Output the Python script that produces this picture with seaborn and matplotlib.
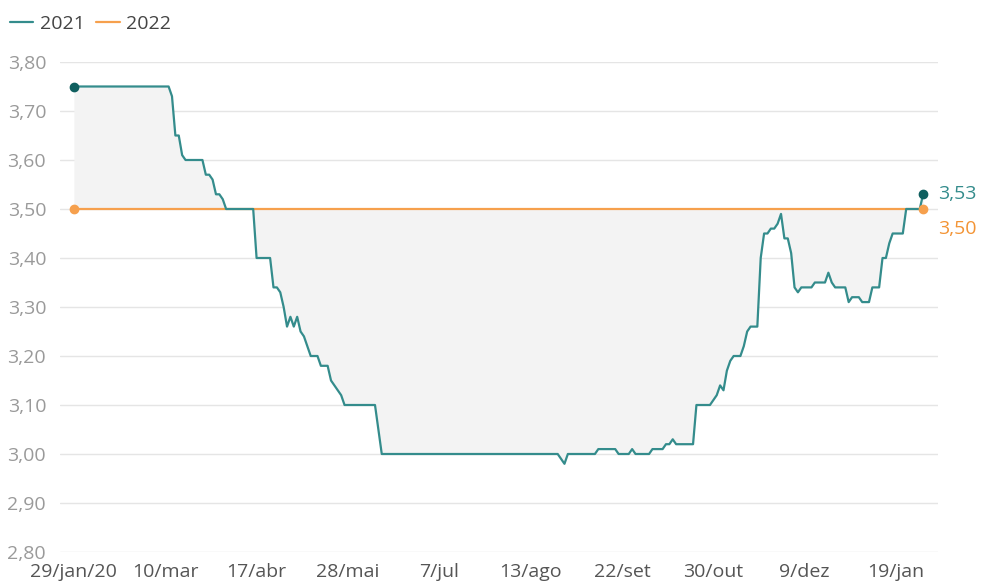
"""Focus-style expectation chart: 2021 vs 2022 series over Brazilian business days."""

import matplotlib

matplotlib.use("Agg")
import matplotlib.pyplot as plt
import numpy as np
import pandas as pd
import seaborn as sns

# -----------------------------------------------------------------------------
# Data
# -----------------------------------------------------------------------------

start_date = "2020-01-29"
end_date = "2021-01-29"
br_holidays = [
    "2020-02-24", "2020-02-25", "2020-04-10", "2020-04-21", "2020-05-01",
    "2020-06-11", "2020-09-07", "2020-10-12", "2020-11-02", "2020-12-25",
    "2021-01-01",
]

# 2021 series as runs of (value, number of business days)
values_2021 = [
    3.75, 3.73, 3.65, 3.61, 3.60, 3.57, 3.56, 3.53, 3.52, 3.50,
    3.40, 3.34, 3.33, 3.30, 3.26, 3.28, 3.26, 3.28, 3.25, 3.24,
    3.22, 3.20, 3.18, 3.15, 3.14, 3.13, 3.12, 3.10, 3.05, 3.00,
    2.99, 2.98, 3.00, 3.01, 3.00, 3.01, 3.00, 3.01, 3.02, 3.03,
    3.02, 3.10, 3.11, 3.12, 3.14, 3.13, 3.17, 3.19, 3.20, 3.22,
    3.25, 3.26, 3.40, 3.45, 3.46, 3.47, 3.49, 3.44, 3.41, 3.34,
    3.33, 3.34, 3.35, 3.37, 3.35, 3.34, 3.31, 3.32, 3.31, 3.34,
    3.40, 3.43, 3.45, 3.50, 3.53,
]
counts_2021 = [
    29, 1, 2, 1, 6, 2, 1, 2, 1, 9,
    5, 2, 1, 1, 1, 1, 1, 1, 1, 1,
    1, 3, 3, 1, 1, 1, 1, 10, 1, 53,
    1, 1, 9, 6, 4, 1, 5, 4, 2, 1,
    6, 5, 1, 1, 1, 1, 1, 1, 3, 1,
    1, 3, 1, 2, 2, 1, 1, 2, 1, 1,
    1, 4, 4, 1, 1, 4, 1, 3, 3, 3,
    2, 1, 4, 5, 1,
]

values_2022 = [3.50]
counts_2022 = [252]

tick_dates = [
    "2020-01-29", "2020-03-10", "2020-04-17", "2020-05-28", "2020-07-07",
    "2020-08-13", "2020-09-22", "2020-10-30", "2020-12-09", "2021-01-19",
]
tick_labels = [
    "29/jan/20", "10/mar", "17/abr", "28/mai", "7/jul",
    "13/ago", "22/set", "30/out", "9/dez", "19/jan",
]
y_ticks = [2.80, 2.90, 3.00, 3.10, 3.20, 3.30, 3.40, 3.50, 3.60, 3.70, 3.80]

TEAL = "#348c8c"
TEAL_DARK = "#0f5f5f"
ORANGE = "#f6a04d"
ORANGE_TXT = "#f39435"
GRID = "#e5e5e5"


def main() -> None:
    sns.set_theme(style="white")
    plt.rcParams["font.family"] = ["Open Sans", "DejaVu Sans"]

    dates = pd.bdate_range(start_date, end_date, freq="C", holidays=br_holidays)
    s2021 = np.repeat(values_2021, counts_2021)
    s2022 = np.repeat(values_2022, counts_2022)
    assert len(s2021) == len(dates) == len(s2022)

    df = pd.DataFrame({"pos": np.arange(len(dates)), "date": dates, "y2021": s2021, "y2022": s2022})

    fig = plt.figure(figsize=(9.88, 5.84), dpi=100)
    ax = fig.add_axes([60 / 988, 1 - 552 / 584, 878 / 988, 490 / 584])

    ax.fill_between(df["pos"], df["y2021"], df["y2022"], color="#f3f3f3", lw=0, zorder=1)
    sns.lineplot(data=df, x="pos", y="y2022", ax=ax, color=ORANGE, lw=1.6, zorder=3, label="2022")
    sns.lineplot(data=df, x="pos", y="y2021", ax=ax, color=TEAL, lw=1.6, zorder=4, label="2021")

    first, last = df.iloc[0], df.iloc[-1]
    ax.plot([first["pos"]], [first["y2021"]], "o", color=TEAL_DARK, ms=6, zorder=5)
    ax.plot([first["pos"]], [first["y2022"]], "o", color=ORANGE, ms=6, zorder=5)
    ax.plot([last["pos"]], [last["y2021"]], "o", color=TEAL_DARK, ms=6, zorder=5)
    ax.plot([last["pos"]], [last["y2022"]], "o", color=ORANGE, ms=6, zorder=5)

    ax.annotate(f"{last['y2021']:.2f}".replace(".", ","), (last["pos"], last["y2021"]),
                xytext=(15, 0), textcoords="offset pixels", va="center", ha="left",
                color=TEAL, fontsize=14, annotation_clip=False)
    ax.annotate(f"{last['y2022']:.2f}".replace(".", ","), (last["pos"], last["y2022"]),
                xytext=(15, -20), textcoords="offset pixels", va="center", ha="left",
                color=ORANGE_TXT, fontsize=14, annotation_clip=False)

    tick_pos = dates.get_indexer(pd.to_datetime(tick_dates))
    ax.set_xticks(tick_pos)
    ax.set_xticklabels(tick_labels)
    ax.set_yticks(y_ticks)
    ax.set_yticklabels([f"{v:.2f}".replace(".", ",") for v in y_ticks])
    ax.set_xlim(-4.1, len(dates) - 1 + 4.4)
    ax.set_ylim(2.80, 3.80)

    ax.grid(axis="y", color=GRID, lw=1)
    ax.grid(axis="x", visible=False)
    sns.despine(ax=ax, left=True, bottom=True, top=True, right=True)
    ax.tick_params(axis="y", length=0, pad=10, labelsize=14, labelcolor="#9a9a9a")
    ax.tick_params(axis="x", length=0, pad=8, labelsize=14, labelcolor="#555555")
    ax.set_xlabel("")
    ax.set_ylabel("")

    handles, labels = ax.get_legend_handles_labels()
    order = [labels.index("2021"), labels.index("2022")]
    ax.get_legend().remove()
    fig.legend([handles[i] for i in order], [labels[i] for i in order],
               loc="upper left", bbox_to_anchor=(-0.008, 1.005), ncol=2, frameon=False,
               fontsize=14, handlelength=1.2, handletextpad=0.35, columnspacing=0.6,
               labelcolor="#444444")

    fig.savefig("out.png", dpi=100)


if __name__ == "__main__":
    main()
